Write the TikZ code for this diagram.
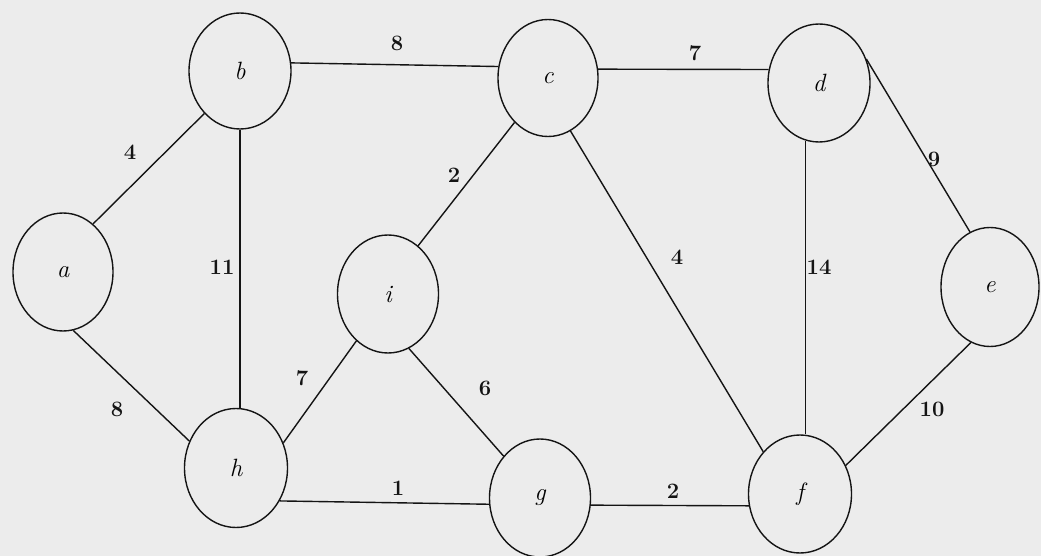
\documentclass[tikz,border=0pt]{standalone}
\usetikzlibrary{shapes.geometric}
\definecolor{paper}{RGB}{236,236,236}
\definecolor{ink}{RGB}{20,20,20}
\begin{document}
\begin{tikzpicture}[x=1pt,y=-1pt,
  vtx/.style={draw=ink,ellipse,line width=1.4pt,inner sep=0pt,font=\fontsize{25}{30}\selectfont\itshape},
  edge/.style={draw=ink,line width=1.4pt},
  wt/.style={font=\fontsize{22}{26}\selectfont\bfseries,text=ink,inner sep=1pt}]
\fill[paper] (0,0) rectangle (1041,556);
\useasboundingbox (0,0) rectangle (1041,556);
% vertices
\node[vtx,minimum width=100pt,minimum height=118pt] (a) at (63,272) {a};
\node[vtx,minimum width=102pt,minimum height=116pt] (b) at (240,71) {b};
\node[vtx,minimum width=100pt,minimum height=117pt] (c) at (548,78) {c};
\node[vtx,minimum width=102pt,minimum height=118pt] (d) at (819,83) {d};
\node[vtx,minimum width=98pt,minimum height=119pt] (e) at (990,287) {e};
\node[vtx,minimum width=101pt,minimum height=118pt] (i) at (388,294) {i};
\node[vtx,minimum width=103pt,minimum height=119pt] (h) at (236,468) {h};
\node[vtx,minimum width=101pt,minimum height=118pt] (g) at (540,498) {g};
\node[vtx,minimum width=103pt,minimum height=118pt] (f) at (800,494) {f};
% edges
\draw[edge] (a.58) -- (b.230);
\draw[edge] (a.280) -- (h.150);
\draw[edge] (b.south) -- (b.south |- h.north);
\draw[edge] (b.9) -- (c.167);
\draw[edge] (c.10) -- (d.165);
\draw[edge] (c.233) -- (i.58);
\draw[edge] (c.293) -- (f.131);
\draw[edge] (d.257) -- (d.257 |- f.north);
\draw[edge] (d.27) -- (e.110);
\draw[edge] (e.251) -- (f.32);
\draw[edge] (h.28) -- (i.236);
\draw[edge] (i.291) -- (g.131);
\draw[edge] (h.323) -- (g.187);
\draw[edge] (g.352) -- (f.193);
% weights
\node[wt] (wab) at (130,152) {4};
\node[wt] (wbh) at (222,267) {11};
\node[wt] (wbc) at (397,43) {8};
\node[wt] (wcd) at (695,53) {7};
\node[wt] (wci) at (454,175) {2};
\node[wt] (wcf) at (677,257) {4};
\node[wt] (wde) at (934,159) {9};
\node[wt] (wdf) at (819,267) {14};
\node[wt] (wah) at (117,409) {8};
\node[wt] (whi) at (302,378) {7};
\node[wt] (wig) at (485,388) {6};
\node[wt] (whg) at (398,488) {1};
\node[wt] (wgf) at (673,491) {2};
\node[wt] (wef) at (932,409) {10};
\end{tikzpicture}
\end{document}
